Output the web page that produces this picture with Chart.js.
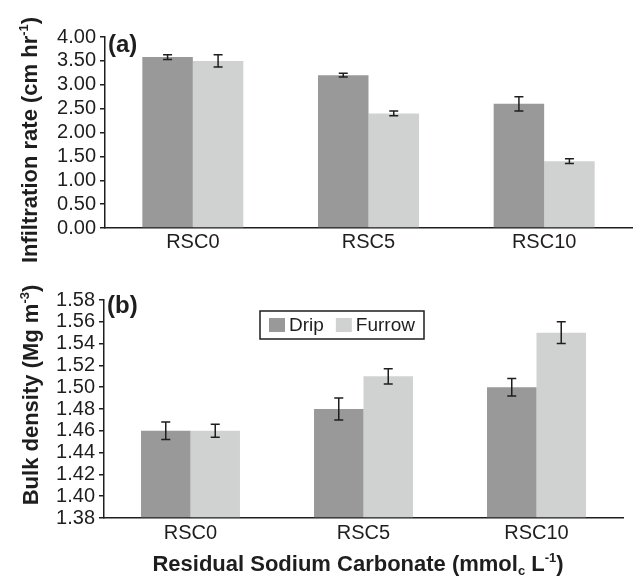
<!DOCTYPE html>
<html>
<head>
<meta charset="utf-8">
<script src="https://cdn.jsdelivr.net/npm/chart.js@4.4.1/dist/chart.umd.min.js"></script>
<style>
  body { margin: 0; background: #fff; }
  #wrap { position: relative; width: 633px; height: 577px; }
  canvas { position: absolute; left: 0; }
  #chart_a { top: 0; }
  #chart_b { top: 270px; }
</style>
</head>
<body>
<div id="wrap">
  <canvas id="chart_a" width="633" height="270"></canvas>
  <canvas id="chart_b" width="633" height="307"></canvas>
</div>
<script>
// values
var categories = ['RSC0', 'RSC5', 'RSC10'];
var series_names = ['Drip', 'Furrow'];

var infiltration_drip = [3.58, 3.20, 2.60];
var infiltration_furrow = [3.50, 2.40, 1.40];
var infiltration_drip_err = [0.05, 0.04, 0.15];
var infiltration_furrow_err = [0.13, 0.05, 0.05];
var infiltration_range = [0, 4.0, 0.5];   // min, max, step

var density_drip = [1.46, 1.48, 1.50];
var density_furrow = [1.46, 1.51, 1.55];
var density_drip_err = [0.008, 0.010, 0.008];
var density_furrow_err = [0.006, 0.007, 0.010];
var density_range = [1.38, 1.58, 0.02];

var drip_color = '#999999';
var furrow_color = '#d0d2d1';
var ink = '#1e1e1e';
var family = '"Liberation Sans", Arial, Helvetica, sans-serif';

// draw a line of text with sup/sub parts, centred on x
function drawRich(ctx, parts, x, y) {
  var total = 0;
  parts.forEach(function (p) {
    ctx.font = p.m ? 'bold 13px ' + family : 'bold 22px ' + family;
    p.w = ctx.measureText(p.t).width;
    total += p.w;
  });
  var cx = x - total / 2;
  parts.forEach(function (p) {
    ctx.font = p.m ? 'bold 13px ' + family : 'bold 22px ' + family;
    var dy = 0;
    if (p.m == 'sup') dy = -9;
    if (p.m == 'sub') dy = 4;
    ctx.fillText(p.t, cx, y + dy);
    cx += p.w;
  });
}

// error bars, drawn on top of the bars
var errorBars = {
  id: 'errorBars',
  afterDatasetsDraw: function (chart) {
    var ctx = chart.ctx;
    var y = chart.scales.y;
    ctx.save();
    ctx.strokeStyle = ink;
    ctx.lineWidth = 1.5;
    chart.data.datasets.forEach(function (ds, i) {
      var meta = chart.getDatasetMeta(i);
      meta.data.forEach(function (bar, j) {
        var top = y.getPixelForValue(ds.data[j] + ds.errors[j]);
        var bottom = y.getPixelForValue(ds.data[j] - ds.errors[j]);
        ctx.beginPath();
        ctx.moveTo(bar.x, top); ctx.lineTo(bar.x, bottom);
        ctx.moveTo(bar.x - 4.5, top); ctx.lineTo(bar.x + 4.5, top);
        ctx.moveTo(bar.x - 4.5, bottom); ctx.lineTo(bar.x + 4.5, bottom);
        ctx.stroke();
      });
    });
    ctx.restore();
  }
};

// axis titles, panel letter and legend box
var figText = {
  id: 'figText',
  afterDraw: function (chart) {
    var o = chart.options.plugins.figText;
    var ctx = chart.ctx;
    ctx.save();
    ctx.fillStyle = ink;
    ctx.textBaseline = 'alphabetic';
    ctx.textAlign = 'left';

    ctx.font = 'bold 24px ' + family;
    ctx.fillText(o.panel[0], o.panel[1], o.panel[2]);

    ctx.save();
    ctx.translate(o.yTitleAt[0], o.yTitleAt[1]);
    ctx.rotate(-Math.PI / 2);
    drawRich(ctx, o.yTitle, 0, 0);
    ctx.restore();

    if (o.xTitle) {
      drawRich(ctx, o.xTitle, o.xTitleAt[0], o.xTitleAt[1]);
    }

    if (o.legend) {
      var L = o.legend;
      ctx.strokeStyle = ink;
      ctx.lineWidth = 1.5;
      ctx.strokeRect(L.x, L.y, L.w, L.h);
      ctx.font = '19px ' + family;
      ctx.textBaseline = 'middle';
      var lx = L.x + 9;
      chart.data.datasets.forEach(function (ds) {
        ctx.fillStyle = ds.backgroundColor;
        ctx.fillRect(lx, L.y + 7, 16, 14);
        ctx.fillStyle = ink;
        ctx.fillText(ds.label, lx + 20, L.y + L.h / 2 + 1);
        lx += 20 + ctx.measureText(ds.label).width + 12;
      });
    }
    ctx.restore();
  }
};

function makeOptions(range, yWidth, xHeight, pad, labelPad, text) {
  return {
    responsive: false,
    animation: false,
    layout: { padding: pad },
    plugins: { legend: { display: false }, tooltip: { enabled: false }, figText: text },
    scales: {
      x: {
        grid: { display: false, drawTicks: false },
        border: { display: true, color: ink, width: 1.5 },
        ticks: { color: ink, padding: labelPad, maxRotation: 0, autoSkip: false, font: { size: 20, family: family } },
        afterFit: function (s) { s.height = xHeight; }
      },
      y: {
        min: range[0],
        max: range[1],
        ticks: {
          stepSize: range[2], color: ink, padding: 4, autoSkip: false,
          font: { size: 20, family: family },
          callback: function (v) { return v.toFixed(2); }
        },
        grid: { drawOnChartArea: false, drawTicks: true, tickLength: 5, color: ink, lineWidth: 1.5 },
        border: { display: true, color: ink, width: 1.5 },
        afterFit: function (s) { s.width = yWidth; }
      }
    }
  };
}

function makeData(drip, furrow, dripErr, furrowErr, base, pct) {
  return {
    labels: categories,
    datasets: [{
      label: series_names[0], data: drip, errors: dripErr, base: base,
      backgroundColor: drip_color, borderWidth: 0,
      categoryPercentage: pct, barPercentage: 1
    }, {
      label: series_names[1], data: furrow, errors: furrowErr, base: base,
      backgroundColor: furrow_color, borderWidth: 0,
      categoryPercentage: pct, barPercentage: 1
    }]
  };
}

// Panel (a): infiltration rate
var ctx_a = document.getElementById('chart_a').getContext('2d');
var chart_a = new Chart(ctx_a, {
  type: 'bar',
  data: makeData(infiltration_drip, infiltration_furrow, infiltration_drip_err, infiltration_furrow_err, 0, 0.575),
  options: makeOptions(infiltration_range, 105, 42, { top: 37, right: 1, left: 0, bottom: 0 }, 2, {
    panel: ['(a)', 108, 52],
    yTitle: [{ t: 'Infiltration rate (cm hr' }, { t: '-1', m: 'sup' }, { t: ')' }],
    yTitleAt: [37, 140]
  }),
  plugins: [errorBars, figText]
});

// Panel (b): bulk density
var ctx_b = document.getElementById('chart_b').getContext('2d');
var chart_b = new Chart(ctx_b, {
  type: 'bar',
  data: makeData(density_drip, density_furrow, density_drip_err, density_furrow_err, density_range[0], 0.572),
  options: makeOptions(density_range, 104, 59, { top: 30, right: 10, left: 0, bottom: 0 }, 3, {
    panel: ['(b)', 107, 43],
    yTitle: [{ t: 'Bulk density (Mg m' }, { t: '-3', m: 'sup' }, { t: ')' }],
    yTitleAt: [38, 125],
    xTitle: [{ t: 'Residual Sodium Carbonate (mmol' }, { t: 'c', m: 'sub' }, { t: ' L' }, { t: '-1', m: 'sup' }, { t: ')' }],
    xTitleAt: [358, 301],
    legend: { x: 260, y: 41, w: 164, h: 28 }
  }),
  plugins: [errorBars, figText]
});
</script>
</body>
</html>
